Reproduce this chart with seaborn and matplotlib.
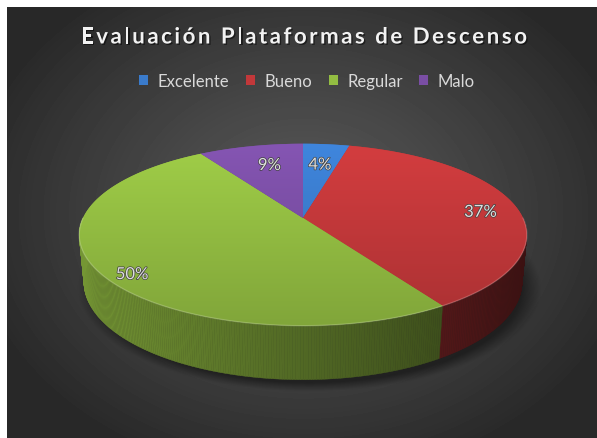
import numpy as np
import matplotlib
matplotlib.use("Agg")
import matplotlib.pyplot as plt
import matplotlib.patheffects as pe
from matplotlib.patches import Polygon, Patch
from matplotlib.collections import PolyCollection
from matplotlib.colors import to_rgb
import seaborn as sns

# data
categories = ["Excelente", "Bueno", "Regular", "Malo"]
values = [4, 37, 50, 9]
colors = ["#3a7bcb", "#c2383a", "#93bd42", "#7a4ea4"]
title = "Evaluación Plataformas de Descenso"

sns.set_theme(style="white")
plt.rcParams["font.family"] = ["Lato", "DejaVu Sans"]

W, H, DPI = 597, 439, 100
fig = plt.figure(figsize=(W / DPI, H / DPI), dpi=DPI)
fig.patch.set_facecolor("white")

# dark panel with a soft radial gradient
bg = fig.add_axes([7 / W, 0, 1 - 7 / W, 1 - 8 / H])
yy, xx = np.mgrid[0:431, 0:590]
d = np.sqrt(((xx - 296) / 340) ** 2 + ((yy - 205) / 270) ** 2)
shade = 0.345 - 0.185 * np.clip(d, 0, 1) ** 1.2
bg.imshow(shade, cmap="gray", vmin=0, vmax=1, aspect="auto", interpolation="bicubic")
bg.axis("off")

# 3d pie projection
elev, cam, height = np.radians(26), 5.0, 0.235
S, ox, oy = 215.5, 303, 265.5


def project(theta, r, y):
    x = r * np.sin(theta)
    z = -r * np.cos(theta)
    dep = y * np.sin(elev) + z * np.cos(elev)
    s = 1 / (1 - dep / cam)
    return x * s, (y * np.cos(elev) - z * np.sin(elev)) * s


ax = fig.add_axes([0, 0, 1, 1])
ax.patch.set_alpha(0)
ax.axis("off")
xlim = (-ox / S, (W - ox) / S)
ylim = (-(H - oy) / S, oy / S)

frac = np.array(values) / np.sum(values)
edges = np.concatenate([[0], np.cumsum(frac)]) * 2 * np.pi

# soft shadow under the pie
base_pts = np.array([project(a, 1, 0) for a in np.linspace(0, 2 * np.pi, 200)])
bx0, by0 = base_pts[:, 0].mean() + 0.03, (base_pts[:, 1].max() + base_pts[:, 1].min()) / 2 - 0.03
ba = (base_pts[:, 0].max() - base_pts[:, 0].min()) / 2
bb = (base_pts[:, 1].max() - base_pts[:, 1].min()) / 2
gx, gy = np.meshgrid(np.linspace(*xlim, 400), np.linspace(ylim[1], ylim[0], 300))
ed = np.sqrt(((gx - bx0) / ba) ** 2 + ((gy - by0) / bb) ** 2)
sh = np.zeros(gx.shape + (4,))
sh[..., 3] = 0.45 * np.clip(1 - (ed - 0.97) / 0.09, 0, 1)
ax.imshow(sh, extent=[*xlim, *ylim], aspect="auto", interpolation="bilinear", zorder=1)

# side walls (front half only)
quads, qcols = [], []
for i, c in enumerate(colors):
    lo, hi = max(edges[i], np.pi / 2), min(edges[i + 1], 3 * np.pi / 2)
    if lo >= hi:
        continue
    t = np.linspace(lo, hi, max(2, int((hi - lo) / 0.01)))
    base = np.array(to_rgb(c))
    for a, b in zip(t[:-1], t[1:]):
        p = [project(a, 1, height), project(b, 1, height), project(b, 1, 0), project(a, 1, 0)]
        quads.append(p)
        xm = np.sin((a + b) / 2)
        f = 0.55 - 0.25 * xm
        qcols.append(np.clip(base * f, 0, 1))
ax.add_collection(PolyCollection(quads, facecolors=qcols, edgecolors=qcols, linewidths=0.3, zorder=2))

# top face wedges with a vertical gradient
grad = np.linspace(1.1, 0.86, 200)[:, None]
for i, c in enumerate(colors):
    t = np.linspace(edges[i], edges[i + 1], max(2, int((edges[i + 1] - edges[i]) / 0.01)))
    pts = [project(0, 0, height)] + [project(a, 1, height) for a in t]
    poly = Polygon(pts, closed=True, facecolor=c, edgecolor="none", zorder=3)
    ax.add_patch(poly)
    img = np.clip(np.array(to_rgb(c))[None, None, :] * grad[:, :, None], 0, 1)
    im = ax.imshow(img, extent=[xlim[0], xlim[1], -0.35, 0.6], aspect="auto",
                   interpolation="bilinear", zorder=3)
    im.set_clip_path(poly)

# soft rim highlight on the front edge
t = np.linspace(np.pi / 2, 3 * np.pi / 2, 200)
rim = np.array([project(a, 1, height) for a in t])
ax.plot(rim[:, 0], rim[:, 1], color="white", alpha=0.2, lw=1.0, zorder=4)

# percentage labels
label_r = [0.69, 0.82, 0.90, 0.70]
label_shift = np.radians([0, 4, -7, 2])
for i, v in enumerate(frac):
    mid = (edges[i] + edges[i + 1]) / 2 + label_shift[i]
    lx, ly = project(mid, label_r[i], height)
    ax.text(lx, ly, f"{v * 100:.0f}%", ha="center", va="center", fontsize=12,
            color="#dedede", zorder=6,
            path_effects=[pe.withStroke(linewidth=1.0, foreground="#404040")])

ax.set_xlim(*xlim)
ax.set_ylim(*ylim)

# title with letter spacing
renderer = fig.canvas.get_renderer()


def text_width(s, **kw):
    t = fig.text(0, 0, s, **kw)
    w = t.get_window_extent(renderer).width
    t.remove()
    return w


tkw = dict(fontsize=16, fontweight="bold")
bar = text_width("||", **tkw)
widths = [text_width("|" + ch + "|", **tkw) - bar for ch in title]
track = (446 - sum(widths)) / (len(title) - 1)
x = 304 - 446 / 2
for ch, w in zip(title, widths):
    fig.text(x / W, 1 - 38 / H, ch, ha="left", va="center", color="#f2f2f2", **tkw,
             path_effects=[pe.withSimplePatchShadow(offset=(1, -1), shadow_rgbFace="black", alpha=0.5)])
    x += w + track

# legend
handles = [Patch(facecolor=c, edgecolor="none") for c in colors]
fig.legend(handles, categories, loc="center", bbox_to_anchor=(307 / W, 1 - 82 / H), ncol=4,
           frameon=False, fontsize=12, labelcolor="#d9d9d9", handlelength=0.55,
           handleheight=0.55, handletextpad=0.55, columnspacing=1.0)

fig.savefig("out.png", dpi=DPI)
